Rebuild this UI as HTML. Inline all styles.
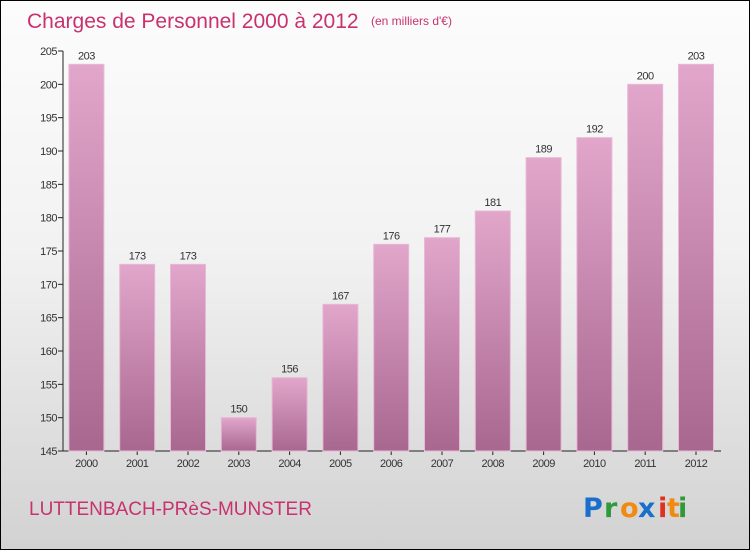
<!DOCTYPE html>
<html><head><meta charset="utf-8"><style>
body{margin:0;}
#wrap{position:relative;width:750px;height:550px;box-sizing:border-box;border:1px solid #000;background:linear-gradient(#fcfcfc 0%,#f2f2f2 45%,#d2d2d2 100%);font-family:"Liberation Sans",sans-serif;overflow:hidden;}
svg{position:absolute;left:0;top:0;}
</style></head><body>
<div id="wrap">
<svg width="750" height="550" id="chart">
<defs>
<linearGradient id="bg" x1="0" y1="0" x2="0" y2="1">
<stop offset="0" stop-color="#e2a6cb"/><stop offset="1" stop-color="#a8678f"/>
</linearGradient>
</defs>
<text x="26" y="27" font-size="21" fill="#c8326e">Charges de Personnel 2000 à 2012</text>
<text x="370" y="24" font-size="12" fill="#c8326e">(en milliers d'€)</text>
<text x="28" y="514" font-size="19" fill="#c8326e">LUTTENBACH-PRèS-MUNSTER</text>
<g font-size="27" font-weight="bold" font-family="'DejaVu Sans',sans-serif">
<text x="582" y="516" fill="#1a6fcc">P</text><text x="603" y="516" fill="#2e9a3a">r</text><text x="619" y="516" fill="#f08a10">o</text><text x="637" y="516" fill="#1a6fcc">x</text><text x="657" y="516" fill="#e03020">i</text><text x="666" y="516" fill="#f08a10">t</text><text x="677" y="516" fill="#2e9a3a">i</text>
</g>
<g id="axes"></g><g id="bars"></g>
</svg>
</div>
<script>
const years=["2000","2001","2002","2003","2004","2005","2006","2007","2008","2009","2010","2011","2012"];
const values=[203,173,173,150,156,167,176,177,181,189,192,200,203];
const yTicks=[145,150,155,160,165,170,175,180,185,190,195,200,205];
const NS="http://www.w3.org/2000/svg";
const x0=62,x1=720,bx0=60,yTop=50,yBot=450,vMin=145,vMax=205;
const band=50.8;
function xs(i){return bx0+band*(i+0.5);}
function ys(v){return yBot-(v-vMin)/(vMax-vMin)*(yBot-yTop);}
function mk(t,a,p){const e=document.createElementNS(NS,t);for(const k in a)e.setAttribute(k,a[k]);p.appendChild(e);return e;}
const ax=document.getElementById('axes'),bg=document.getElementById('bars');
const yl=mk('line',{x1:x0,y1:yTop,x2:x0,y2:yBot,stroke:'#222'},ax);


const xl=mk('line',{x1:x0,y1:yBot,x2:x1,y2:yBot,stroke:'#222'},ax);


yTicks.forEach(v=>{const y=ys(v);
mk('line',{x1:x0-5,y1:y,x2:x0,y2:y,stroke:'#222'},ax);
const t=mk('text',{x:x0-6,y:y+4,'font-size':11,'text-anchor':'end',fill:'#333','letter-spacing':'-0.5'},ax);t.textContent=v;

});
years.forEach((yr,i)=>{const cx=xs(i),w=35,v=values[i],y=ys(v);
mk('line',{x1:cx,y1:yBot,x2:cx,y2:yBot+4,stroke:'#222'},ax);
const r=mk('rect',{x:cx-w/2,y:y,width:w,height:yBot-y,fill:'url(#bg)',stroke:'#e8b8d6','stroke-width':1},bg);


const l=mk('text',{x:cx,y:y-5,'font-size':11,'text-anchor':'middle',fill:'#333','letter-spacing':'-0.5'},bg);l.textContent=v;


const xt=mk('text',{x:cx,y:yBot+16,'font-size':11,'text-anchor':'middle',fill:'#333','letter-spacing':'-0.5'},ax);xt.textContent=yr;

});
</script>
</body></html>
